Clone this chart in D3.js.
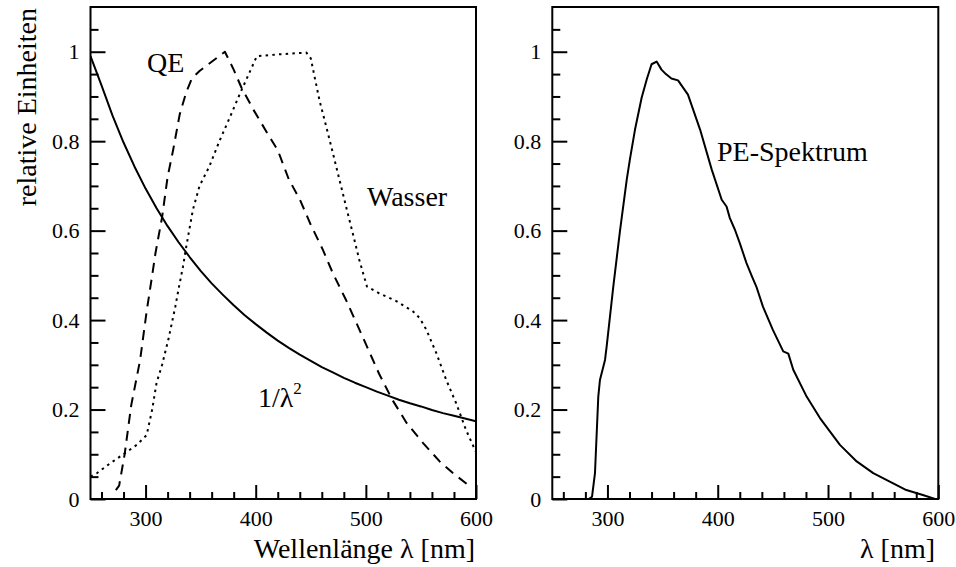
<!DOCTYPE html>
<html><head><meta charset="utf-8">
<script src="https://cdn.jsdelivr.net/npm/d3@7"></script>
<style>
body{margin:0;background:#fff}
svg{display:block}
text{font-family:"Liberation Serif","Times New Roman",serif;fill:#000}
</style>
</head><body>
<svg id="c" width="956" height="567"></svg>
<script>
// ---- data ----
const invSqX = [250,260,270,280,290,300,310,320,330,340,350,360,370,380,390,400,410,420,430,440,450,460,470,480,490,500,510,520,530,540,550,560,570,580,590,600];
const invSqY = [0.99,0.925,0.857,0.797,0.743,0.694,0.650,0.610,0.574,0.541,0.510,0.482,0.457,0.433,0.411,0.391,0.372,0.354,0.338,0.323,0.309,0.295,0.283,0.271,0.260,0.250,0.240,0.231,0.222,0.214,0.207,0.199,0.192,0.186,0.180,0.174];

const qeX = [273,276,281,287,295,301,306,309,315,320,325,331,337,342,349,372,380,387,398,410,420,430,440,450,461,470,482,497,512,524,537,552,567,579,593,596];
const qeY = [0.02,0.03,0.10,0.21,0.31,0.42,0.50,0.55,0.63,0.72,0.78,0.86,0.91,0.94,0.957,1.0,0.96,0.92,0.87,0.82,0.78,0.715,0.67,0.613,0.557,0.505,0.445,0.363,0.28,0.222,0.17,0.125,0.084,0.058,0.031,0.027];

const waterX = [250,256,268,281,292,301,306,310,315,321,327,330,334,337,343,349,358,367,377,386,395,401,420,446,450,458,464,470,476,482,488,494,501,512,528,543,549,555,564,573,582,591,600];
const waterY = [0.05,0.058,0.08,0.102,0.121,0.143,0.20,0.26,0.30,0.36,0.43,0.47,0.52,0.565,0.647,0.70,0.744,0.80,0.856,0.908,0.957,0.99,0.994,0.998,0.985,0.89,0.833,0.774,0.714,0.654,0.595,0.535,0.475,0.46,0.442,0.419,0.404,0.378,0.326,0.266,0.214,0.154,0.105];

const peX = [283,286,288.7,291.7,293.2,297.8,299.3,305.3,311.4,317.5,320.4,325,331,335.6,340,344.6,349,353,358,364,373,384,394.5,403.6,408,411,415.6,420,426,431,435,441,450,459.4,464,468.5,480.6,492.7,510.8,526,541,556,571,586,597,600];
const peY = [0,0.005,0.058,0.229,0.266,0.311,0.341,0.475,0.60,0.714,0.76,0.826,0.897,0.938,0.972,0.978,0.96,0.95,0.94,0.936,0.904,0.826,0.737,0.669,0.654,0.628,0.602,0.572,0.528,0.498,0.475,0.43,0.378,0.33,0.325,0.289,0.229,0.181,0.121,0.084,0.058,0.039,0.02,0.009,0.0,0.0];

const xMajor = [300,400,500,600];
const xMinor = [260,280,320,340,360,380,420,440,460,480,520,540,560,580];
const yMajor = [0,0.2,0.4,0.6,0.8,1];
const yMinor = [0.05,0.1,0.15,0.25,0.3,0.35,0.45,0.5,0.55,0.65,0.7,0.75,0.85,0.9,0.95,1.05];

// ---- drawing ----
const svg = d3.select("#c");
const plotTop = 7, plotBottom = 499;

function panel(x0, x1, id) {
  const x = d3.scaleLinear().domain([250,600]).range([x0,x1]);
  const y = d3.scaleLinear().domain([0,1.1]).range([plotBottom,plotTop]);
  const g = svg.append("g");
  g.append("clipPath").attr("id", id).append("rect")
    .attr("x", x0).attr("y", plotTop).attr("width", x1-x0).attr("height", plotBottom-plotTop);

  const styleAxis = sel => {
    sel.select(".domain").remove();
    sel.selectAll("line").attr("stroke","#000").attr("stroke-width",2);
    sel.attr("font-family",'"Liberation Serif","Times New Roman",serif').attr("font-size",22);
    sel.selectAll("text").attr("fill","#000");
  };
  g.append("g").attr("transform",`translate(${x0},0)`)
    .call(d3.axisLeft(y).tickValues(yMinor).tickSize(-8).tickFormat("")).call(styleAxis);
  g.append("g").attr("transform",`translate(${x0},0)`)
    .call(d3.axisLeft(y).tickValues(yMajor).tickSize(-15).tickPadding(11).tickFormat(d3.format("~g"))).call(styleAxis);
  g.append("g").attr("transform",`translate(0,${plotBottom})`)
    .call(d3.axisBottom(x).tickValues(xMinor).tickSize(-7).tickFormat("")).call(styleAxis);
  g.append("g").attr("transform",`translate(0,${plotBottom})`)
    .call(d3.axisBottom(x).tickValues(xMajor).tickSize(-14).tickPadding(11).tickFormat(d3.format("d"))).call(styleAxis);

  g.append("rect").attr("x",x0).attr("y",plotTop).attr("width",x1-x0).attr("height",plotBottom-plotTop)
    .attr("fill","none").attr("stroke","#000").attr("stroke-width",2);
  return {x, y, g};
}

function curve(p, xs, ys, dash, id) {
  const line = d3.line().x((d,i)=>p.x(xs[i])).y((d,i)=>p.y(ys[i]));
  p.g.append("path").datum(xs).attr("d", line)
    .attr("clip-path",`url(#${id})`)
    .attr("fill","none").attr("stroke","#000").attr("stroke-width",2)
    .attr("stroke-linejoin","round")
    .attr("stroke-dasharray", dash);
}

const L = panel(90.5, 476, "clipL");
curve(L, invSqX, invSqY, null, "clipL");
curve(L, qeX, qeY, "10,7", "clipL");
curve(L, waterX, waterY, "2.5,4.2", "clipL");

const R = panel(552.3, 938.3, "clipR");
curve(R, peX, peY, null, "clipR");

// labels
const txt = (x, y, s, anchor) => svg.append("text").attr("x",x).attr("y",y)
  .attr("font-size",28).attr("text-anchor",anchor||"start").text(s);
txt(147, 72, "QE");
txt(367, 206, "Wasser");
txt(717, 161, "PE-Spektrum");
const lam = svg.append("text").attr("x",258).attr("y",407).attr("font-size",28);
lam.append("tspan").text("1/λ");
lam.append("tspan").attr("font-size",17).attr("dy",-13).text("2");
txt(475, 558, "Wellenlänge λ [nm]", "end");
txt(935, 558, "λ [nm]", "end");
svg.append("text").attr("transform","translate(36,8) rotate(-90)")
  .attr("font-size",28).attr("text-anchor","end").text("relative Einheiten");
</script>
</body></html>
